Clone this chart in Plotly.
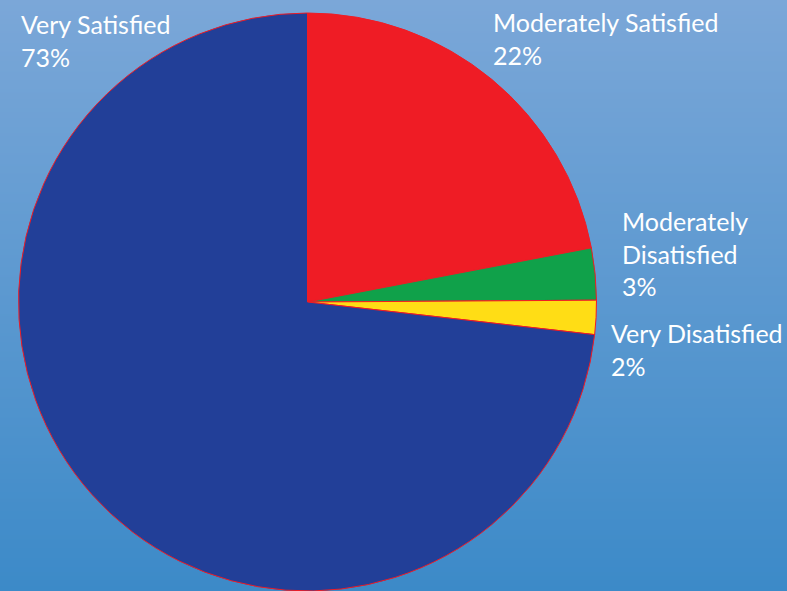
import base64, struct, zlib
import plotly.graph_objects as go

# Data
categories = ["Moderately Satisfied", "Moderately Disatisfied", "Very Disatisfied", "Very Satisfied"]
label_lines = ["Moderately Satisfied", "Moderately<br>Disatisfied", "Very Disatisfied", "Very Satisfied"]
values = [22.0, 2.9, 1.9, 73.2]
colors = ["#EF1C25", "#10A14A", "#FFDD15", "#223F98"]

W, H = 787, 591

# vertical gradient background as a tiny PNG
def grad_png(h, top, bot):
    rows = b""
    for i in range(h):
        t = i / (h - 1)
        c = bytes(int(round(top[k] + (bot[k] - top[k]) * t)) for k in range(3))
        rows += b"\x00" + c
    def chunk(tag, data):
        return struct.pack(">I", len(data)) + tag + data + struct.pack(">I", zlib.crc32(tag + data) & 0xffffffff)
    png = b"\x89PNG\r\n\x1a\n"
    png += chunk(b"IHDR", struct.pack(">IIBBBBB", 1, h, 8, 2, 0, 0, 0))
    png += chunk(b"IDAT", zlib.compress(rows))
    png += chunk(b"IEND", b"")
    return "data:image/png;base64," + base64.b64encode(png).decode()

bg = grad_png(H, (123, 167, 216), (60, 138, 200))

fig = go.Figure(go.Pie(
    labels=categories,
    values=values,
    sort=False,
    direction="clockwise",
    rotation=0,
    marker=dict(colors=colors, line=dict(color="#EF1C25", width=1)),
    textinfo="none",
    hoverinfo="label+percent",
    showlegend=False,
    domain=dict(x=[18 / W, 597 / W], y=[0, 1 - 13 / H]),
))

# label positions (pixels from top-left)
label_pos = [(491, 5), (620, 204), (609, 316), (19, 7)]
total = sum(values)
for lab, v, (px, py) in zip(label_lines, values, label_pos):
    fig.add_annotation(
        x=px / W, y=1 - py / H, xref="paper", yref="paper",
        xanchor="left", yanchor="top", align="left", showarrow=False,
        text=f"{lab}<br>{round(v / total * 100)}%",
        font=dict(family="Lato", size=25, color="white"),
    )

fig.update_layout(
    width=W, height=H, autosize=False,
    margin=dict(l=0, r=0, t=0, b=0),
    paper_bgcolor="#5A92CF",
    images=[dict(source=bg, xref="paper", yref="paper", x=0, y=1, sizex=1, sizey=1,
                 xanchor="left", yanchor="top", sizing="stretch", layer="below")],
)

fig.write_html("out.html", config={"displayModeBar": False},
               post_script="document.body.style.margin='0';document.body.style.overflow='hidden';")
